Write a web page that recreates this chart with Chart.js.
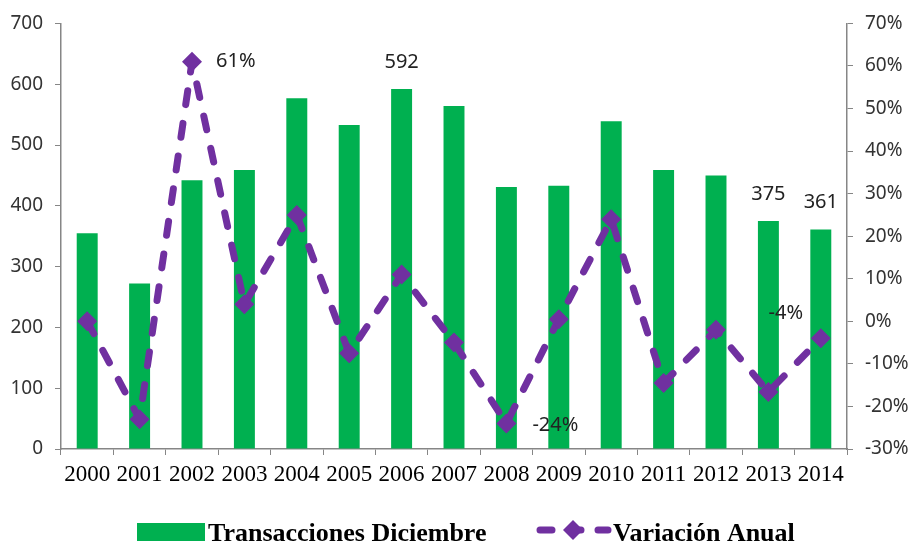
<!DOCTYPE html>
<html>
<head>
<meta charset="utf-8">
<script src="https://cdn.jsdelivr.net/npm/chart.js@4"></script>
<style>
	body { margin: 0; background: #ffffff; }
	.caixa { width: 912px; height: 541px; }
</style>
</head>
<body>
<div class="caixa"><canvas class="grafico"></canvas></div>
<script>
const anos = ['2000', '2001', '2002', '2003', '2004', '2005', '2006', '2007', '2008', '2009', '2010', '2011', '2012', '2013', '2014'];
const transacciones = [355, 272, 442, 459, 577, 533, 592, 564, 431, 433, 539, 459, 450, 375, 361];
const variacion = [0, -23, 61, 4, 25, -7.5, 11, -5, -24, 0.5, 24, -14.5, -2, -16.6, -4];
const ticksIzq = [0, 100, 200, 300, 400, 500, 600, 700];
const ticksDer = [-30, -20, -10, 0, 10, 20, 30, 40, 50, 60, 70];

const verde = '#00B050';
const morado = '#7030A0';
const gris = '#868686';

// etiquetas de valor que aparecen en la imagen
const etiquetas = [
	{ serie: 1, idx: 2, dx: 24, dy: 0, align: 'left' },
	{ serie: 0, idx: 6, dx: 0, dy: -27, align: 'center' },
	{ serie: 1, idx: 8, dx: 26, dy: 2, align: 'left' },
	{ serie: 0, idx: 13, dx: 0, dy: -27, align: 'center' },
	{ serie: 0, idx: 14, dx: 0, dy: -27, align: 'center' },
	{ serie: 1, idx: 14, dx: -35, dy: -25, align: 'center' }
];

const pluginEtiquetas = {
	id: 'etiquetas',
	afterDatasetsDraw(chart) {
		const ctx = chart.ctx;
		ctx.save();
		ctx.font = '20px "Noto Sans"';
		ctx.fillStyle = '#222222';
		ctx.textBaseline = 'middle';
		etiquetas.forEach(e => {
			const el = chart.getDatasetMeta(e.serie).data[e.idx];
			const valor = chart.data.datasets[e.serie].data[e.idx];
			const texto = e.serie === 1 ? Math.round(valor) + '%' : String(valor);
			ctx.textAlign = e.align;
			ctx.fillText(texto, el.x + e.dx, el.y + e.dy);
		});
		ctx.restore();
	}
};

const pluginLeyenda = {
	id: 'leyenda',
	afterDraw(chart) {
		const ctx = chart.ctx;
		ctx.save();
		ctx.font = 'bold 26px "Liberation Serif"';
		ctx.textBaseline = 'alphabetic';
		ctx.textAlign = 'left';

		ctx.fillStyle = verde;
		ctx.fillRect(137, 523, 68, 20);
		ctx.fillStyle = '#000000';
		ctx.fillText(chart.data.datasets[0].label, 208, 541);

		ctx.strokeStyle = morado;
		ctx.lineWidth = 7;
		ctx.lineCap = 'round';
		ctx.setLineDash([12, 17]);
		ctx.beginPath();
		ctx.moveTo(540, 530);
		ctx.lineTo(608, 530);
		ctx.stroke();
		ctx.setLineDash([]);
		ctx.fillStyle = morado;
		ctx.beginPath();
		ctx.moveTo(573, 520);
		ctx.lineTo(583, 530);
		ctx.lineTo(573, 540);
		ctx.lineTo(563, 530);
		ctx.closePath();
		ctx.fill();
		ctx.fillStyle = '#000000';
		ctx.fillText(chart.data.datasets[1].label, 613, 541);
		ctx.restore();
	}
};

const ctx = document.querySelector('.grafico').getContext('2d');
const grafico = new Chart(ctx, {
	type: 'bar',
	data: {
		labels: anos,
		datasets: [
			{
				label: 'Transacciones Diciembre',
				data: transacciones,
				backgroundColor: verde,
				categoryPercentage: 0.4,
				barPercentage: 1,
				yAxisID: 'y',
				order: 2
			},
			{
				type: 'line',
				label: 'Variación Anual',
				data: variacion,
				borderColor: morado,
				backgroundColor: morado,
				borderWidth: 7,
				borderDash: [14, 19],
				borderCapStyle: 'round',
				borderJoinStyle: 'round',
				pointStyle: 'rectRot',
				pointRadius: 10,
				pointHoverRadius: 10,
				pointBorderWidth: 0,
				tension: 0,
				fill: false,
				yAxisID: 'y1',
				order: 1
			}
		]
	},
	plugins: [pluginEtiquetas, pluginLeyenda],
	options: {
		responsive: true,
		maintainAspectRatio: false,
		animation: false,
		layout: {
			padding: { top: 22, left: 0, right: 0, bottom: 0 }
		},
		scales: {
			x: {
				afterFit: scale => { scale.height = 92; },
				grid: { display: true, drawOnChartArea: false, tickLength: 6, color: gris, offset: true },
				border: { color: gris, width: 1.5 },
				ticks: {
					color: '#000000',
					font: { family: 'Liberation Serif', size: 23 },
					maxRotation: 0,
					autoSkip: false,
					padding: 6
				}
			},
			y: {
				position: 'left',
				min: 0,
				max: 700,
				afterFit: scale => { scale.width = 61; },
				afterBuildTicks: scale => { scale.ticks = ticksIzq.map(v => ({ value: v })); },
				grid: { display: true, drawOnChartArea: false, tickLength: 6, color: gris },
				border: { color: gris, width: 1.5 },
				ticks: {
					color: '#333333',
					font: { family: 'Noto Sans', size: 19 },
					padding: 12
				}
			},
			y1: {
				position: 'right',
				min: -30,
				max: 70,
				afterFit: scale => { scale.width = 65; },
				afterBuildTicks: scale => { scale.ticks = ticksDer.map(v => ({ value: v })); },
				grid: { display: true, drawOnChartArea: false, tickLength: 6, color: gris },
				border: { color: gris, width: 1.5 },
				ticks: {
					color: '#333333',
					font: { family: 'Noto Sans', size: 19 },
					padding: 12,
					callback: v => v + '%'
				}
			}
		},
		plugins: {
			legend: { display: false },
			tooltip: { enabled: false }
		}
	}
});
</script>
</body>
</html>
